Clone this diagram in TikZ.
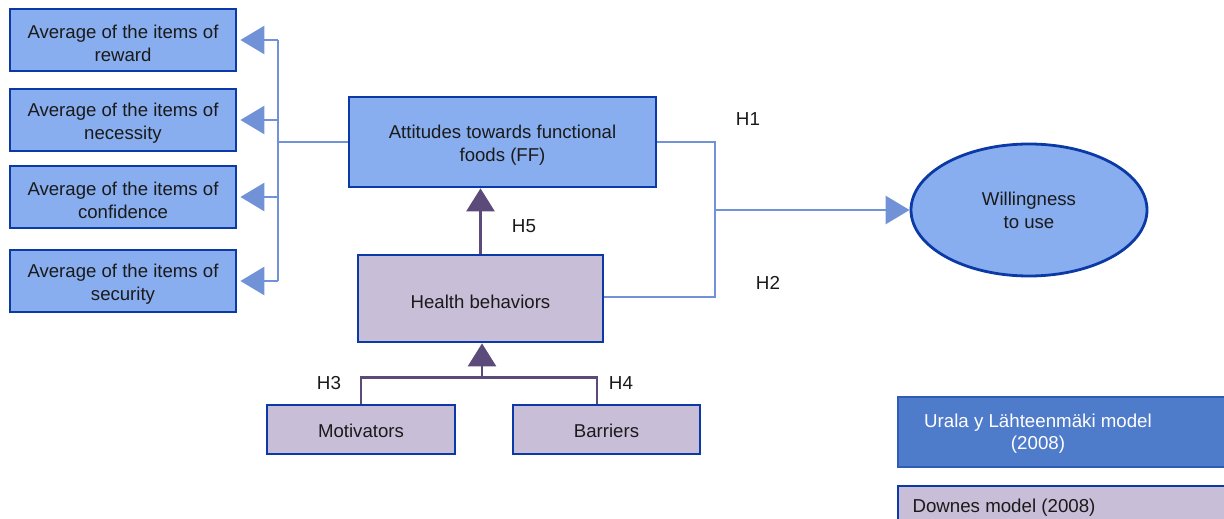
\documentclass[tikz,border=0pt]{standalone}
\usepackage{fontspec}
\setmainfont{Liberation Sans}
\usetikzlibrary{arrows.meta,shapes.geometric}
\definecolor{boxblue}{HTML}{88AEF0}
\definecolor{edgeblue}{HTML}{0B3AA6}
\definecolor{lineblue}{HTML}{7292D8}
\definecolor{lilac}{HTML}{C8BED8}
\definecolor{purp}{HTML}{5C4A7A}
\definecolor{legblue}{HTML}{4F7BCB}
\definecolor{legedge}{HTML}{2F5DB5}
\definecolor{txt}{HTML}{1A1A1A}
\newcommand{\dnstrut}{\rule{0pt}{19.5pt}}
\begin{document}
\begin{tikzpicture}[x=1pt,y=-1pt,
  every node/.style={font=\fontsize{18.6}{23}\selectfont, text=txt},
  bluebox/.style={draw=edgeblue, line width=2.8pt, fill=boxblue, inner sep=0pt, align=center},
  lilacbox/.style={draw=edgeblue, line width=2.8pt, fill=lilac, inner sep=0pt, align=center},
  blueline/.style={draw=lineblue, line width=2.8pt},
  purpline/.style={draw=purp, line width=2.8pt},
  bluearrow/.style={blueline, -{Triangle[length=24pt,width=28pt]}, shorten >=3pt},
  purparrow/.style={purpline, -{Triangle[length=23pt,width=28pt]}},
  hlabel/.style={font=\fontsize{18.8}{22}\selectfont},
  legfont/.style={font=\fontsize{18.7}{22}\selectfont}
]
\useasboundingbox (0,0) rectangle (1224,519);

% left boxes
\node[bluebox, minimum width=226pt, minimum height=62pt] (rew) at (123,40) {\dnstrut Average of the items of\\reward};
\node[bluebox, minimum width=226pt, minimum height=62pt] (nec) at (123,120) {\dnstrut Average of the items of\\necessity};
\node[bluebox, minimum width=226pt, minimum height=62pt] (con) at (123,197) {\dnstrut Average of the items of\\confidence};
\node[bluebox, minimum width=226pt, minimum height=62pt] (sec) at (123,281) {\dnstrut Average of the items of\\security};

% central boxes
\node[bluebox, minimum width=307pt, minimum height=90pt] (att) at (502.5,142) {\dnstrut Attitudes towards functional\\foods (FF)};
\node[lilacbox, minimum width=245pt, minimum height=87pt] (hb) at (480.5,298.5) {\dnstrut Health behaviors};
\node[lilacbox, minimum width=188pt, minimum height=49pt] (mot) at (361,429.5) {\rule{0pt}{17pt}Motivators};
\node[lilacbox, minimum width=187pt, minimum height=49pt] (bar) at (606.5,429.5) {\rule{0pt}{17pt}Barriers};

% ellipse
\node[ellipse, draw=edgeblue, line width=2.8pt, fill=boxblue, minimum width=236pt, minimum height=132pt, inner sep=0pt, align=center] (wil) at (1029,210) {Willingness\\to use};

% bracket to left boxes
\coordinate (bt) at (278,40);
\coordinate (bb) at (278,281);
\coordinate (bm) at (278,142);
\draw[blueline] (bt) -- (bb);
\draw[blueline] (att.west) -- (bm);
\draw[bluearrow] (bt) -- (rew.east);
\draw[bluearrow] (278,120) -- (nec.east);
\draw[bluearrow] (278,197) -- (con.east);
\draw[bluearrow] (bb) -- (sec.east);

% H1/H2 junction
\coordinate (jt) at (715,142);
\coordinate (jb) at (715,297);
\coordinate (jm) at (715,210);
\draw[blueline] (att.east) -- (jt) -- (jb) -- (hb.east |- jb);
\draw[bluearrow, shorten >=0pt] (jm) -- (wil.west);

% H5
\draw[purparrow] (hb.north) -- (hb.north |- att.south);

% H3/H4
\coordinate (mj) at (361,377.5);
\coordinate (bj) at (597,377.5);
\coordinate (cj) at (482,377.5);
\draw[purpline] (mot.north) -- (mj) -- (bj) -- (bj |- bar.north);
\draw[purparrow] (cj) -- (cj |- hb.south);

% labels
\node[hlabel] (h1) at (748,119) {H1};
\node[hlabel] (h2) at (768,283) {H2};
\node[hlabel] (h5) at (524,226) {H5};
\node[hlabel] (h3) at (329,383) {H3};
\node[hlabel] (h4) at (621,383) {H4};

% legend
\draw[draw=legedge, line width=2pt, fill=legblue] (898,397) rectangle (1230,467);
\node[legfont, text=white, align=center] (leg1) at (1038,434) {Urala y Lähteenmäki model\\(2008)};
\draw[draw=edgeblue, line width=2.8pt, fill=lilac] (898,486) rectangle (1230,530);
\node[legfont, anchor=west] (leg2) at (909,508) {Downes model (2008)};
\end{tikzpicture}
\end{document}
